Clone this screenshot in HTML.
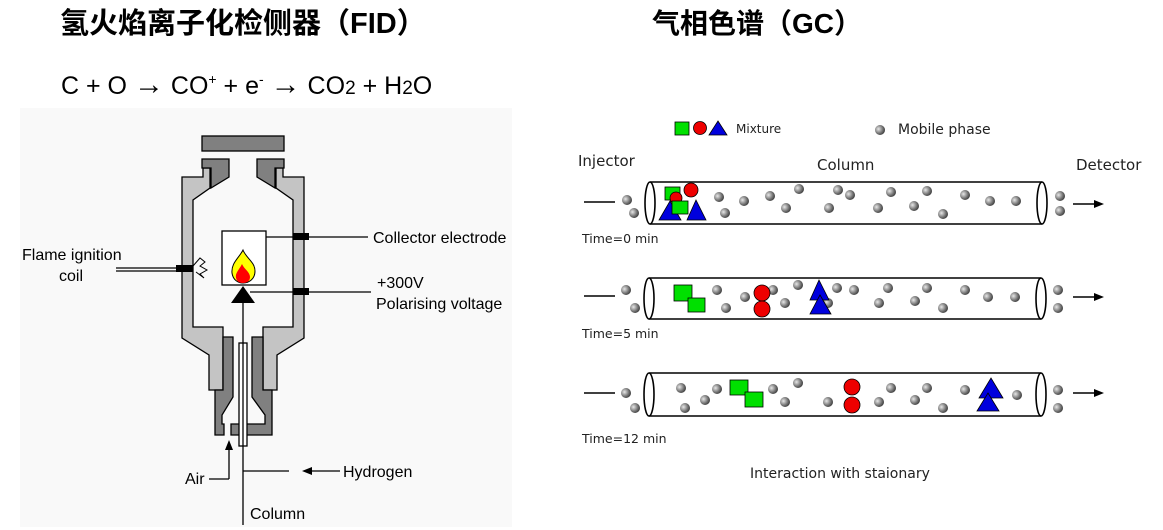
<!DOCTYPE html>
<html><head><meta charset="utf-8"><style>
html,body{margin:0;padding:0;background:#fff;}
body{width:1163px;height:530px;overflow:hidden;position:relative;}
svg{position:absolute;left:0;top:0;}
</style></head><body>
<svg width="1163" height="530" viewBox="0 0 1163 530" xmlns="http://www.w3.org/2000/svg">
<defs>
<radialGradient id="dot" cx="35%" cy="40%" r="70%">
<stop offset="0" stop-color="#e8e8e8"/><stop offset="0.6" stop-color="#777"/><stop offset="1" stop-color="#333"/>
</radialGradient>
</defs>
<!-- titles -->
<text x="60" y="33" font-family="Liberation Sans, Noto Sans CJK SC, sans-serif" font-weight="bold" font-size="29" fill="#000">氢火焰离子化检侧器（FID）</text>
<text x="652" y="33" font-family="Liberation Sans, Noto Sans CJK SC, sans-serif" font-weight="bold" font-size="28" fill="#000">气相色谱（GC）</text>
<text x="61" y="94" font-family="Liberation Sans, sans-serif" font-size="25" fill="#000">C + O <tspan font-size="30" font-weight="bold">→</tspan> CO<tspan font-size="14" dy="-10">+</tspan><tspan dy="10"> + e</tspan><tspan font-size="14" dy="-10">-</tspan><tspan dy="10"> </tspan><tspan font-size="30" font-weight="bold">→</tspan> CO<tspan font-size="19">2</tspan> + H<tspan font-size="19">2</tspan>O</text>

<!-- FID panel -->
<rect x="20" y="108" width="492" height="419" fill="#f9f9f9"/>
<g stroke="#000" stroke-width="1.3">
<rect x="202" y="136" width="82" height="15" fill="#808080"/>
<polygon fill="#c4c4c4" points="182,177 203,177 203,168 210,168 210,188 193,200 193,327 223,327 223,390 209,390 209,355 182,338"/>
<polygon fill="#c4c4c4" points="304,177 283,177 283,168 276,168 276,188 293,200 293,327 263,327 263,390 277,390 277,355 304,338"/>
<polygon fill="#808080" points="202,159 229,159 229,177 211,188 211,168 202,168"/>
<polygon fill="#808080" points="284,159 257,159 257,177 275,188 275,168 284,168"/>
<polygon fill="#808080" points="223,337 233,337 233,397 222,415 222,424 224,424 224,435 215,435 215,390 223,390"/>
<polygon fill="#808080" points="263,337 252,337 252,397 265,415 265,424 231,424 231,435 272,435 272,390 263,390"/>
<rect x="222" y="231" width="44" height="54" fill="#fff"/>
<line x1="243" y1="290" x2="243" y2="525"/>
<rect x="239" y="343" width="8" height="103" fill="#fff"/>
<line x1="243" y1="343" x2="243" y2="446"/>
</g>
<path d="M243,250 C239,258 231,263 232,273 C233,280 238,283 243,283 C249,283 255,279 255,271 C255,262 246,258 243,250Z" fill="#ffff00" stroke="#000" stroke-width="1"/>
<path d="M242,264 C239,270 235,273 236,278 C237,282 240,283 243,283 C247,283 250,281 250,277 C250,272 244,269 242,264Z" fill="#ff0000"/>
<polygon points="231,303 255,303 243,286" fill="#000"/>
<g stroke="#000" stroke-width="1.3" fill="none">
<line x1="266" y1="237" x2="368" y2="237"/>
<line x1="250" y1="292" x2="371" y2="292"/>
<line x1="116" y1="268" x2="178" y2="268"/>
<line x1="116" y1="271" x2="178" y2="271"/>
<polyline points="193,266 200,258 205,262 200,266 207,270 200,274 204,278 196,272" stroke-width="1"/>
<line x1="229" y1="446" x2="229" y2="479"/>
<line x1="209" y1="479" x2="229" y2="479"/>
<line x1="243" y1="471" x2="289" y2="471"/>
<line x1="310" y1="471" x2="340" y2="471"/>
</g>
<rect x="293" y="233" width="16" height="7" fill="#000"/>
<rect x="293" y="288" width="16" height="7" fill="#000"/>
<rect x="176" y="265" width="17" height="7" fill="#000"/>
<polygon points="229,440 225,450 233,450" fill="#000"/>
<polygon points="302,471 312,467 312,475" fill="#000"/>
<g font-family="Liberation Sans, sans-serif" font-size="16" fill="#000">
<text x="22" y="260">Flame ignition</text>
<text x="59" y="281">coil</text>
<text x="373" y="243">Collector electrode</text>
<text x="377" y="288">+300V</text>
<text x="376" y="309">Polarising voltage</text>
<text x="185" y="484">Air</text>
<text x="343" y="477">Hydrogen</text>
<text x="250" y="519">Column</text>
</g>

<!-- GC -->
<g font-family="DejaVu Sans, sans-serif" fill="#222">
<text x="736" y="133" font-size="12">Mixture</text>
<text x="898" y="134" font-size="14">Mobile phase</text>
<text x="578" y="166" font-size="15">Injector</text>
<text x="817" y="170" font-size="15">Column</text>
<text x="1076" y="170" font-size="15">Detector</text>
<text x="582" y="243" font-size="12.5">Time=0 min</text>
<text x="582" y="338" font-size="12.5">Time=5 min</text>
<text x="582" y="443" font-size="12.5">Time=12 min</text>
<text x="750" y="478" font-size="14">Interaction with staionary</text>
</g>
<rect x="675" y="122" width="14" height="13" fill="#00e000" stroke="#000" stroke-width="0.8"/>
<circle cx="700" cy="128" r="6.5" fill="#ee0000" stroke="#000" stroke-width="0.8"/>
<polygon points="709,135 727,135 718,121" fill="#0000dd" stroke="#000" stroke-width="0.8"/>
<circle cx="880" cy="130" r="5" fill="url(#dot)"/>

<!-- tubes -->
<g stroke="#000" stroke-width="1.6" fill="none">
<path d="M650,182 L1042,182 M650,224 L1042,224"/>
<ellipse cx="650" cy="203" rx="5" ry="21" fill="#fff"/>
<ellipse cx="1042" cy="203" rx="5" ry="21"/>
<line x1="584" y1="202" x2="615" y2="202"/>
<line x1="1073" y1="204" x2="1096" y2="204"/>
<path d="M649,278 L1041,278 M649,319 L1041,319"/>
<ellipse cx="649" cy="298.5" rx="5" ry="20.5" fill="#fff"/>
<ellipse cx="1041" cy="298.5" rx="5" ry="20.5"/>
<line x1="584" y1="296" x2="615" y2="296"/>
<line x1="1073" y1="297" x2="1096" y2="297"/>
<path d="M649,373 L1041,373 M649,416 L1041,416"/>
<ellipse cx="649" cy="394.5" rx="5" ry="21.5" fill="#fff"/>
<ellipse cx="1041" cy="394.5" rx="5" ry="21.5"/>
<line x1="584" y1="393" x2="615" y2="393"/>
<line x1="1073" y1="393" x2="1096" y2="393"/>
</g>
<polygon points="1104,204 1094,200 1094,208" fill="#000"/>
<polygon points="1104,297 1094,293 1094,301" fill="#000"/>
<polygon points="1104,393 1094,389 1094,397" fill="#000"/>
<g fill="url(#dot)">
<circle cx="627" cy="200" r="5"/><circle cx="634" cy="213" r="5"/><circle cx="719" cy="197" r="5"/><circle cx="725" cy="213" r="5"/><circle cx="744" cy="201" r="5"/><circle cx="770" cy="196" r="5"/><circle cx="786" cy="208" r="5"/><circle cx="799" cy="189" r="5"/><circle cx="829" cy="208" r="5"/><circle cx="838" cy="190" r="5"/><circle cx="850" cy="195" r="5"/><circle cx="878" cy="208" r="5"/><circle cx="891" cy="192" r="5"/><circle cx="914" cy="206" r="5"/><circle cx="927" cy="191" r="5"/><circle cx="943" cy="214" r="5"/><circle cx="965" cy="195" r="5"/><circle cx="990" cy="201" r="5"/><circle cx="1016" cy="201" r="5"/><circle cx="1060" cy="196" r="5"/><circle cx="1060" cy="211" r="5"/>
<circle cx="626" cy="290" r="5"/><circle cx="635" cy="308" r="5"/><circle cx="717" cy="290" r="5"/><circle cx="726" cy="308" r="5"/><circle cx="745" cy="297" r="5"/><circle cx="773" cy="290" r="5"/><circle cx="785" cy="303" r="5"/><circle cx="798" cy="285" r="5"/><circle cx="828" cy="303" r="5"/><circle cx="837" cy="288" r="5"/><circle cx="854" cy="290" r="5"/><circle cx="879" cy="303" r="5"/><circle cx="888" cy="288" r="5"/><circle cx="915" cy="301" r="5"/><circle cx="927" cy="288" r="5"/><circle cx="943" cy="308" r="5"/><circle cx="965" cy="290" r="5"/><circle cx="988" cy="297" r="5"/><circle cx="1015" cy="297" r="5"/><circle cx="1058" cy="290" r="5"/><circle cx="1058" cy="308" r="5"/>
<circle cx="626" cy="393" r="5"/><circle cx="635" cy="408" r="5"/><circle cx="681" cy="388" r="5"/><circle cx="685" cy="408" r="5"/><circle cx="705" cy="400" r="5"/><circle cx="717" cy="389" r="5"/><circle cx="773" cy="389" r="5"/><circle cx="785" cy="402" r="5"/><circle cx="798" cy="383" r="5"/><circle cx="828" cy="402" r="5"/><circle cx="879" cy="402" r="5"/><circle cx="891" cy="388" r="5"/><circle cx="915" cy="400" r="5"/><circle cx="927" cy="388" r="5"/><circle cx="943" cy="408" r="5"/><circle cx="965" cy="390" r="5"/><circle cx="1017" cy="395" r="5"/><circle cx="1058" cy="390" r="5"/><circle cx="1058" cy="408" r="5"/>
</g>
<g stroke="#000" stroke-width="0.8">
<rect x="665" y="187" width="15" height="13" fill="#00e000"/>
<circle cx="676" cy="198" r="6" fill="#ee0000"/>
<circle cx="691" cy="190" r="7" fill="#ee0000"/>
<polygon points="659,220 681,220 670,201" fill="#0000dd"/>
<polygon points="687,220 706,220 696,200" fill="#0000dd"/>
<rect x="672" y="201" width="16" height="13" fill="#00e000"/>
<rect x="674" y="285" width="18" height="16" fill="#00e000"/>
<rect x="688" y="298" width="17" height="14" fill="#00e000"/>
<circle cx="762" cy="293" r="8" fill="#ee0000"/>
<circle cx="762" cy="309" r="8" fill="#ee0000"/>
<polygon points="810,300 829,300 819,280" fill="#0000dd"/>
<polygon points="810,314 831,314 820,295" fill="#0000dd"/>
<rect x="730" y="380" width="18" height="15" fill="#00e000"/>
<rect x="745" y="392" width="18" height="15" fill="#00e000"/>
<circle cx="852" cy="387" r="8" fill="#ee0000"/>
<circle cx="852" cy="405" r="8" fill="#ee0000"/>
<polygon points="979,398 1003,398 991,378" fill="#0000dd"/>
<polygon points="977,411 999,411 988,393" fill="#0000dd"/>
</g>
</svg>
</body></html>
